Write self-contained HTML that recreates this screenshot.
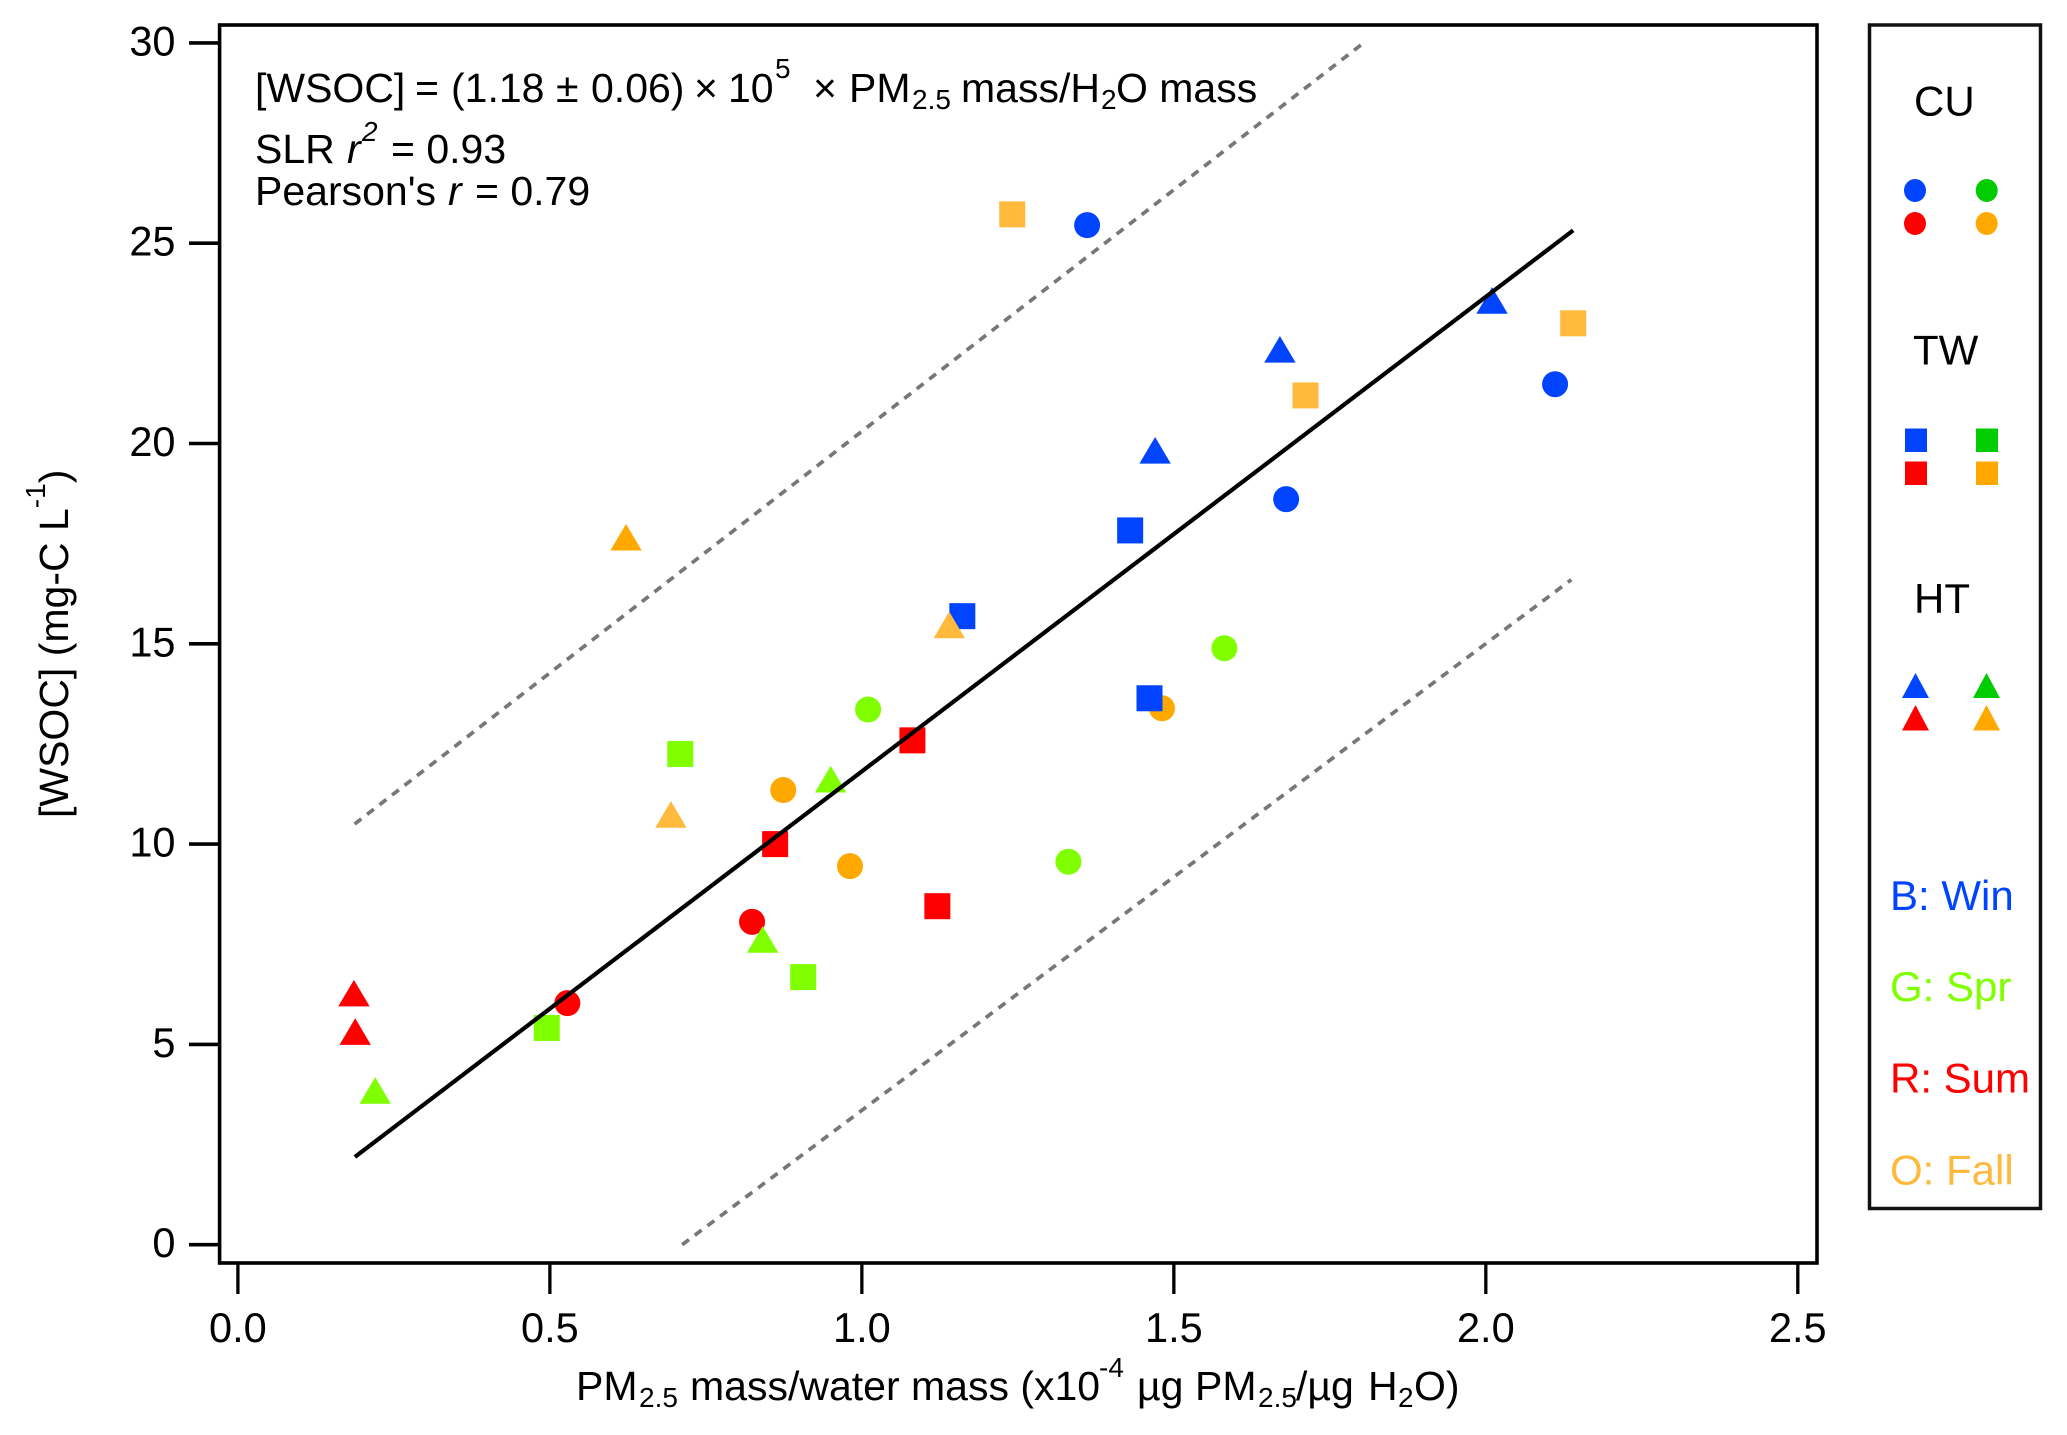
<!DOCTYPE html>
<html lang="en">
<head>
<meta charset="utf-8">
<title>WSOC vs PM2.5 mass / water mass</title>
<style>
  html, body { margin: 0; padding: 0; background: #fff; }
  svg { display: block; }
  text { font-family: "Liberation Sans", Arial, sans-serif; fill: #000; font-size: 41px; }
  .sub { font-size: 28px; }
  .sup { font-size: 28px; }
  .tick-text { font-size: 41.5px; }
  .legend-text { font-size: 42px; }
</style>
</head>
<body>
<svg id="chart" xmlns="http://www.w3.org/2000/svg" width="2067" height="1435" viewBox="0 0 2067 1435">
  <rect x="0" y="0" width="2067" height="1435" fill="#fff"/>
  <g id="ticks"></g>
  <g id="marks"></g>
  <g id="lines"></g>
  <rect x="219.6" y="25" width="1597.4" height="1238" fill="none" stroke="#000" stroke-width="3.6"/>

  <g>
    <text y="102"><tspan x="255">[WSOC]</tspan><tspan x="415">=</tspan><tspan x="451">(1.18</tspan><tspan x="556">±</tspan><tspan x="591">0.06)</tspan><tspan x="694">×</tspan><tspan x="728">10</tspan><tspan class="sup" x="775" y="78">5</tspan><tspan x="813" y="102">×</tspan><tspan x="849" y="102">PM</tspan><tspan class="sub" x="912" y="109">2.5</tspan><tspan x="961" y="102">mass/H</tspan><tspan class="sub" x="1101" y="109">2</tspan><tspan x="1116" y="102">O mass</tspan></text>
    <text y="163"><tspan x="255">SLR</tspan><tspan x="347" font-style="italic">r</tspan><tspan class="sup" x="362" y="141" font-style="italic">2</tspan><tspan x="391" y="163">= 0.93</tspan></text>
    <text y="205"><tspan x="255">Pearson's</tspan><tspan x="448" font-style="italic">r</tspan><tspan x="475">= 0.79</tspan></text>
  </g>

  <text y="1400"><tspan x="576">PM</tspan><tspan class="sub" x="639" y="1407">2.5</tspan><tspan x="690" y="1400">mass/water mass (x10</tspan><tspan class="sup" x="1099" y="1377">-4</tspan><tspan x="1137" y="1400">µg</tspan><tspan x="1195" y="1400">PM</tspan><tspan class="sub" x="1258" y="1407">2.5</tspan><tspan x="1296" y="1400">/µg</tspan><tspan x="1368" y="1400">H</tspan><tspan class="sub" x="1398" y="1407">2</tspan><tspan x="1414" y="1400">O)</tspan></text>

  <text transform="translate(68 818) rotate(-90)">[WSOC] (mg-C L<tspan class="sup" dy="-23">-1</tspan><tspan dy="23">)</tspan></text>

  <g>
    <rect x="1869.5" y="25" width="171" height="1183.5" fill="none" stroke="#111" stroke-width="3.5"/>
    <text class="legend-text" x="1914" y="115.5">CU</text>
    <ellipse cx="1915" cy="190.5" rx="11" ry="11.5" fill="#0044ff"/>
    <ellipse cx="1986.7" cy="190.5" rx="11" ry="11.5" fill="#00cc00"/>
    <ellipse cx="1915" cy="223.5" rx="11" ry="11.5" fill="#ff0000"/>
    <ellipse cx="1986.7" cy="223.5" rx="11" ry="11.5" fill="#ffa800"/>

    <text class="legend-text" x="1913" y="364.5">TW</text>
    <rect x="1905" y="428.5" width="22" height="23.5" fill="#0044ff"/>
    <rect x="1976" y="428.5" width="22" height="23.5" fill="#00cc00"/>
    <rect x="1905" y="461.5" width="22" height="23.5" fill="#ff0000"/>
    <rect x="1976" y="461.5" width="22" height="23.5" fill="#ffa800"/>

    <text class="legend-text" x="1914" y="613">HT</text>
    <polygon points="1902,698 1915.5,673 1929,698" fill="#0044ff"/>
    <polygon points="1973,698 1986.5,673 2000,698" fill="#00cc00"/>
    <polygon points="1902,730.5 1915.5,705 1929,730.5" fill="#ff0000"/>
    <polygon points="1973,730.5 1986.5,705 2000,730.5" fill="#ffa800"/>

    <text class="legend-text" x="1890" y="910" style="fill:#0044ff">B: Win</text>
    <text class="legend-text" x="1890" y="1001" style="fill:#7fff00">G: Spr</text>
    <text class="legend-text" x="1890" y="1092.5" style="fill:#ff0000">R: Sum</text>
    <text class="legend-text" x="1890" y="1184.5" style="fill:#ffb93c">O: Fall</text>
  </g>
</svg>

<script>
// Axis tick values
const xTicks = [0.0, 0.5, 1.0, 1.5, 2.0, 2.5];
const yTicks = [0, 5, 10, 15, 20, 25, 30];

// CU site (circles)
const cuWinX = [1.361, 2.111, 1.680];
const cuWinY = [25.45, 21.48, 18.61];
const cuSprX = [1.010, 1.581, 1.331];
const cuSprY = [13.36, 14.89, 9.56];
const cuSumX = [0.528, 0.824];
const cuSumY = [6.03, 8.06];
const cuFallX = [0.874, 0.981, 1.481];
const cuFallY = [11.35, 9.45, 13.39];

// TW site (squares)
const twWinX = [1.161, 1.430, 1.461];
const twWinY = [15.69, 17.83, 13.64];
const twSprX = [0.709, 0.906, 0.495];
const twSprY = [12.25, 6.68, 5.41];
const twSumX = [1.081, 0.861, 1.121];
const twSumY = [12.59, 10.00, 8.45];
const twFallX = [1.241, 1.711, 2.140];
const twFallY = [25.72, 21.20, 23.00];

// HT site (triangles)
const htWinX = [2.010, 1.670, 1.470];
const htWinY = [23.57, 22.35, 19.83];
const htSprX = [0.950, 0.841, 0.220];
const htSprY = [11.62, 7.62, 3.85];
const htSumX = [0.186, 0.188];
const htSumY = [6.28, 5.32];
const htFallDarkX = [0.622];
const htFallDarkY = [17.66];
const htFallLightX = [0.694, 1.140];
const htFallLightY = [10.74, 15.47];

// Fit line and confidence bounds (end points in data units)
const fitX = [0.1875, 2.14];
const fitY = [2.19, 25.32];
const upperX = [0.187, 1.80];
const upperY = [10.5, 29.95];
const lowerX = [0.712, 2.137];
const lowerY = [0.0, 16.6];

const NS = 'http://www.w3.org/2000/svg';
const xAxis = v => 237.9 + 623.96 * v;
const yAxis = v => 1244.7 - 40.06 * v;
const BLUE = '#0044ff', GREEN = '#80ff00', RED = '#ff0000', ORANGE = '#ffa800', LIGHT = '#ffb93c';

function make(tag, attrs, parent) {
  const el = document.createElementNS(NS, tag);
  for (const k in attrs) el.setAttribute(k, attrs[k]);
  parent.appendChild(el);
  return el;
}

const ticksG = document.getElementById('ticks');
xTicks.forEach(function (t) {
  const tick = make('line', { x1: xAxis(t), x2: xAxis(t), y1: 1263, y2: 1294, stroke: '#000', 'stroke-width': 3.3 }, ticksG);
  
  
  const label = make('text', { x: xAxis(t), y: 1342, 'text-anchor': 'middle', class: 'tick-text' }, ticksG);
  
  
  label.textContent = t.toFixed(1);
});
yTicks.forEach(function (t) {
  const tick = make('line', { x1: 189, x2: 219.6, y1: yAxis(t), y2: yAxis(t), stroke: '#000', 'stroke-width': 3.6 }, ticksG);
  
  
  const label = make('text', { x: 175.5, y: yAxis(t) + 12.5, 'text-anchor': 'end', class: 'tick-text' }, ticksG);
  
  
  label.textContent = String(t);
});

const marksG = document.getElementById('marks');
function drawCircles(xs, ys, color) {
  xs.forEach(function (x, i) {
    const c = make('circle', { cx: xAxis(x), cy: yAxis(ys[i]), r: 13, fill: color }, marksG);
    
    
  });
}
function drawSquares(xs, ys, color) {
  xs.forEach(function (x, i) {
    const s = make('rect', { x: xAxis(x) - 13, y: yAxis(ys[i]) - 13, width: 26, height: 26, fill: color }, marksG);
    
    
  });
}
function drawTriangles(xs, ys, color) {
  xs.forEach(function (x, i) {
    const px = xAxis(x), py = yAxis(ys[i]);
    const p = make('polygon', { points: (px - 15.7) + ',' + (py + 13.3) + ' ' + px + ',' + (py - 13.3) + ' ' + (px + 15.7) + ',' + (py + 13.3), fill: color }, marksG);
    
    
  });
}

drawCircles(cuWinX, cuWinY, BLUE);
drawCircles(cuSprX, cuSprY, GREEN);
drawCircles(cuSumX, cuSumY, RED);
drawCircles(cuFallX, cuFallY, ORANGE);

drawSquares(twWinX, twWinY, BLUE);
drawSquares(twSprX, twSprY, GREEN);
drawSquares(twSumX, twSumY, RED);
drawSquares(twFallX, twFallY, LIGHT);

drawTriangles(htWinX, htWinY, BLUE);
drawTriangles(htSprX, htSprY, GREEN);
drawTriangles(htSumX, htSumY, RED);
drawTriangles(htFallDarkX, htFallDarkY, ORANGE);
drawTriangles(htFallLightX, htFallLightY, LIGHT);

const linesG = document.getElementById('lines');
const fitLine = make('line', { x1: xAxis(fitX[0]), y1: yAxis(fitY[0]), x2: xAxis(fitX[1]), y2: yAxis(fitY[1]), stroke: '#000', 'stroke-width': 4.2 }, linesG);


const upperLine = make('line', { x1: xAxis(upperX[0]), y1: yAxis(upperY[0]), x2: xAxis(upperX[1]), y2: yAxis(upperY[1]), stroke: '#777', 'stroke-width': 3.7, 'stroke-dasharray': '8.5 7.3' }, linesG);


const lowerLine = make('line', { x1: xAxis(lowerX[0]), y1: yAxis(lowerY[0]), x2: xAxis(lowerX[1]), y2: yAxis(lowerY[1]), stroke: '#777', 'stroke-width': 3.7, 'stroke-dasharray': '8.5 7.3' }, linesG);


</script>
</body>
</html>
